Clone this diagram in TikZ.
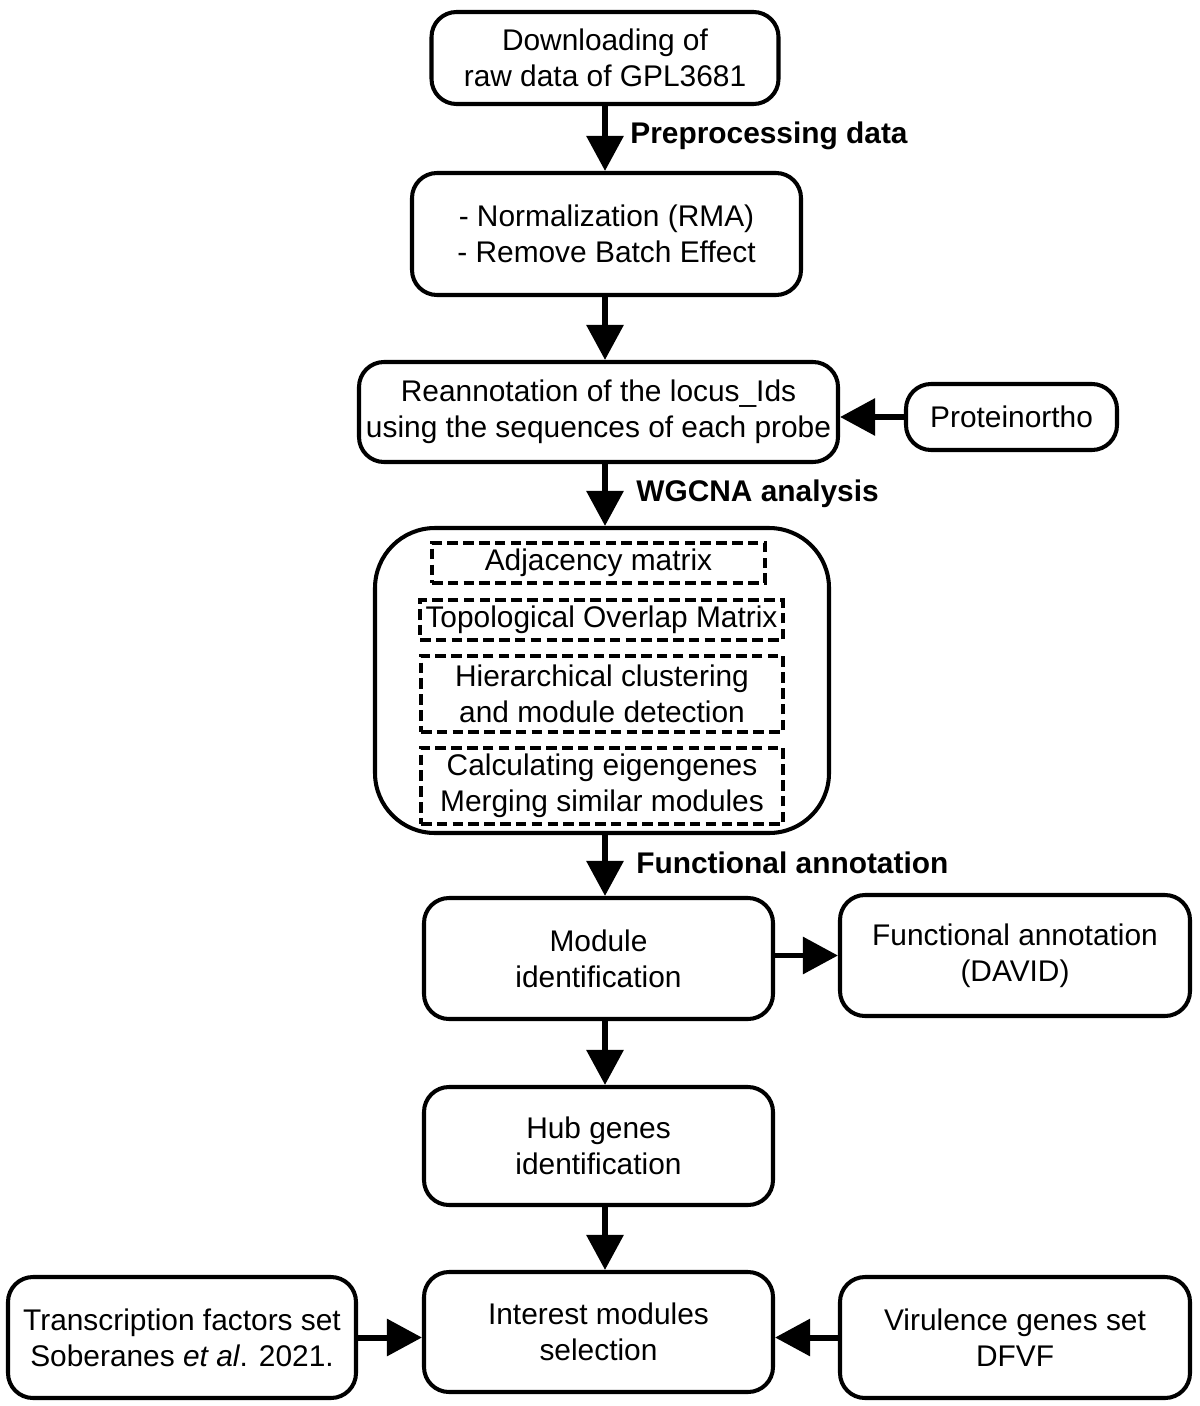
\documentclass[tikz,border=0pt]{standalone}
\usepackage{fontspec}
\setmainfont{Liberation Sans}
\usetikzlibrary{arrows.meta}

\begin{document}
\begin{tikzpicture}
\tikzstyle{every node}=[font=\fontsize{17}{20.5}\selectfont,align=center,inner sep=0pt]
\tikzstyle{stage}=[draw,line width=2.3pt,rounded corners=0.5cm]
\tikzstyle{substage}=[draw,line width=2pt,dash pattern=on 6pt off 3pt]
\tikzstyle{arr}=[line width=3.4pt,-{Triangle[width=0.72cm,length=0.7cm]}]
\tikzstyle{lab}=[anchor=west,font=\fontsize{17}{20.5}\selectfont\bfseries]
\useasboundingbox (0,0) rectangle (24,-28.12);

% main column
\node[stage,minimum width=6.94cm,minimum height=1.84cm] (dl) at (12.1,-1.16) {Downloading of\\raw data of GPL3681};
\node[stage,minimum width=7.78cm,minimum height=2.44cm] (norm) at (12.13,-4.68) {- Normalization (RMA)\\- Remove Batch Effect};
\node[stage,minimum width=9.58cm,minimum height=2.0cm] (reann) at (11.97,-8.24) {Reannotation of the locus\_Ids\\using the sequences of each probe};
\node[stage,minimum width=4.22cm,minimum height=1.32cm] (prot) at (20.23,-8.34) {Proteinortho};

% WGCNA block
\node[stage,rounded corners=1.2cm,minimum width=9.08cm,minimum height=6.1cm] (wgcna) at (12.04,-13.61) {};
\node[substage,minimum width=6.66cm,minimum height=0.8cm] (adj) at (11.97,-11.26) {Adjacency matrix};
\node[substage,minimum width=7.26cm,minimum height=0.8cm] (tom) at (12.03,-12.4) {Topological Overlap Matrix};
\node[substage,minimum width=7.24cm,minimum height=1.52cm] (hier) at (12.04,-13.88) {Hierarchical clustering\\and module detection};
\node[substage,minimum width=7.24cm,minimum height=1.52cm] (eig) at (12.04,-15.72) {Calculating eigengenes\\Merging similar modules};

\node[stage,minimum width=6.98cm,minimum height=2.42cm] (mod) at (11.97,-19.17) {Module\\identification};
\node[stage,minimum width=7.0cm,minimum height=2.42cm] (fa) at (20.3,-19.11) {Functional annotation\\(DAVID)};
\node[stage,minimum width=6.98cm,minimum height=2.36cm] (hub) at (11.97,-22.92) {Hub genes\\identification};
\node[stage,minimum width=6.98cm,minimum height=2.4cm] (intr) at (11.97,-26.64) {Interest modules\\selection};
\node[stage,minimum width=6.96cm,minimum height=2.42cm] (tf) at (3.64,-26.75) {Transcription factors set\\Soberanes \textit{et al}. 2021.};
\node[stage,minimum width=7.0cm,minimum height=2.42cm] (vir) at (20.3,-26.75) {Virulence genes set\\DFVF};

% arrows
\draw[arr] (dl.south) -- (dl.south |- norm.north);
\draw[arr] (norm.south -| dl.south) -- (dl.south |- reann.north);
\draw[arr] (reann.south -| dl.south) -- (dl.south |- wgcna.north);
\draw[arr] (prot.west) -- (reann.east |- prot.west);
\draw[arr] (wgcna.south -| dl.south) -- (dl.south |- mod.north);
\draw[arr] (mod.south -| dl.south) -- (dl.south |- hub.north);
\draw[arr] (hub.south -| dl.south) -- (dl.south |- intr.north);
\draw[arr] (mod.east |- fa.west) -- (fa.west);
\draw[arr] (tf.east) -- (intr.west |- tf.east);
\draw[arr] (vir.west) -- (intr.east |- vir.west);

% labels
\node[lab] (pre) at (12.6,-2.72) {Preprocessing data};
\node[lab] (wg) at (12.72,-9.88) {WGCNA analysis};
\node[lab] (fan) at (12.72,-17.26) {Functional annotation};
\end{tikzpicture}
\end{document}
